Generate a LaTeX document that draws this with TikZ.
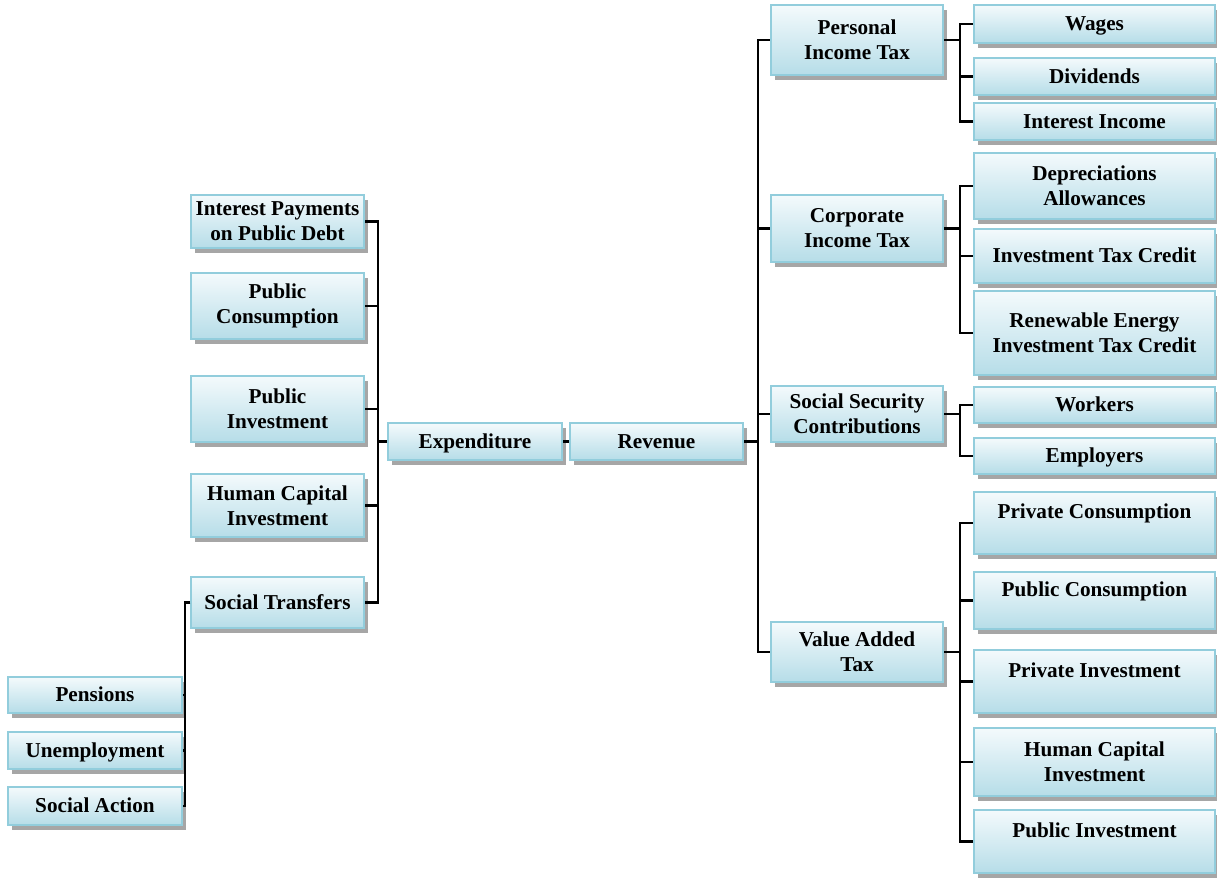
\documentclass[tikz,border=0pt]{standalone}
\usepackage{fontspec}
\setmainfont{Liberation Serif}
\usetikzlibrary{positioning,shadows}
\definecolor{boxline}{HTML}{92CDDC}
\definecolor{boxtop}{HTML}{F4FAFC}
\definecolor{boxbot}{HTML}{B6DDE8}

\begin{document}
\begin{tikzpicture}
[x=0.5pt, y=-0.5pt,
 box/.style={draw=boxline, line width=1pt, top color=boxtop, bottom color=boxbot,
   align=center, inner sep=1pt, font=\fontsize{10.6}{12.5}\selectfont\bfseries,
   drop shadow={shadow xshift=2pt, shadow yshift=-2.5pt, fill=black!35, opacity=1}},
 one/.style={text height=9pt, text depth=2.5pt},
 lbox/.style={box, minimum width=86.5pt},
 sbox/.style={box, one, minimum width=87pt},
 mbox/.style={box, minimum width=86pt},
 rbox/.style={box, minimum width=120.5pt},
 topbox/.style={rbox, text height=8pt, text depth=12.5pt},
 link/.style={line width=1.2pt, black}]
\useasboundingbox (0,0) rectangle (1217,879);

% expenditure side
\node[lbox, minimum height=26.5pt] (ipd) at (277.5,221.5) {Interest Payments\\on Public Debt};
\node[lbox, minimum height=33pt] (pcons) at (277.5,306) {Public\\Consumption};
\node[lbox, minimum height=33pt] (pinv) at (277.5,409) {Public\\Investment};
\node[lbox, minimum height=31.5pt] (hci) at (277.5,505.5) {Human Capital\\Investment};
\node[lbox, one, minimum height=25.5pt] (st) at (277.5,602.5) {Social Transfers};
\node[sbox, minimum height=18pt] (pen) at (95,695) {Pensions};
\node[sbox, minimum height=18.5pt] (une) at (95,750.5) {Unemployment};
\node[sbox, minimum height=19pt] (sa) at (95,806) {Social Action};

\node[box, one, minimum width=87pt, minimum height=18.5pt] (exp) at (475,441.5) {Expenditure};
\node[box, one, minimum width=86.5pt, minimum height=18.5pt] (rev) at (656.5,441.5) {Revenue};

% revenue side
\node[mbox, minimum height=35pt] (pit) at (857,40) {Personal\\Income Tax};
\node[mbox, minimum height=33.5pt] (cit) at (857,228.5) {Corporate\\Income Tax};
\node[mbox, minimum height=28pt] (ssc) at (857,414) {Social Security\\Contributions};
\node[mbox, minimum height=30pt] (vat) at (857,652) {Value Added\\Tax};

\node[rbox, one, minimum height=19pt] (wag) at (1094.5,24) {Wages};
\node[rbox, one, minimum height=18.5pt] (div) at (1094.5,76.5) {Dividends};
\node[rbox, one, minimum height=18.5pt] (iinc) at (1094.5,121.5) {Interest Income};
\node[rbox, minimum height=33pt] (dep) at (1094.5,186) {Depreciations\\Allowances};
\node[rbox, one, minimum height=27pt] (itc) at (1094.5,256) {Investment Tax Credit};
\node[rbox, minimum height=42pt] (ren) at (1094.5,333) {Renewable Energy\\Investment Tax Credit};
\node[rbox, one, minimum height=18pt] (wrk) at (1094.5,405) {Workers};
\node[rbox, one, minimum height=18pt] (emp) at (1094.5,456) {Employers};
\node[topbox, minimum height=31pt] (prc) at (1094.5,523) {Private Consumption};
\node[topbox, minimum height=28.5pt] (puc) at (1094.5,600.5) {Public Consumption};
\node[topbox, minimum height=31.5pt] (pri) at (1094.5,681.5) {Private Investment};
\node[rbox, minimum height=34pt] (hci2) at (1094.5,762) {Human Capital\\Investment};
\node[topbox, minimum height=31.5pt] (pui) at (1094.5,841.5) {Public Investment};

% connectors
\foreach \n in {ipd,pcons,pinv,hci,st}
  \draw[link] (\n.east) -- ++(13,0) |- (exp.west);
\foreach \n in {pen,une,sa}
  \draw[link] (st.west) -- ++(-5,0) |- (\n.east);
\draw[link] (exp.east) -- (rev.west);
\foreach \n in {pit,cit,ssc,vat}
  \draw[link] (rev.east) -- ++(14,0) |- (\n.west);
\foreach \n in {wag,div,iinc}
  \draw[link] (pit.east) -- ++(16,0) |- (\n.west);
\foreach \n in {dep,itc,ren}
  \draw[link] (cit.east) -- ++(16,0) |- (\n.west);
\foreach \n in {wrk,emp}
  \draw[link] (ssc.east) -- ++(16,0) |- (\n.west);
\foreach \n in {prc,puc,pri,hci2,pui}
  \draw[link] (vat.east) -- ++(16,0) |- (\n.west);
\end{tikzpicture}
\end{document}
